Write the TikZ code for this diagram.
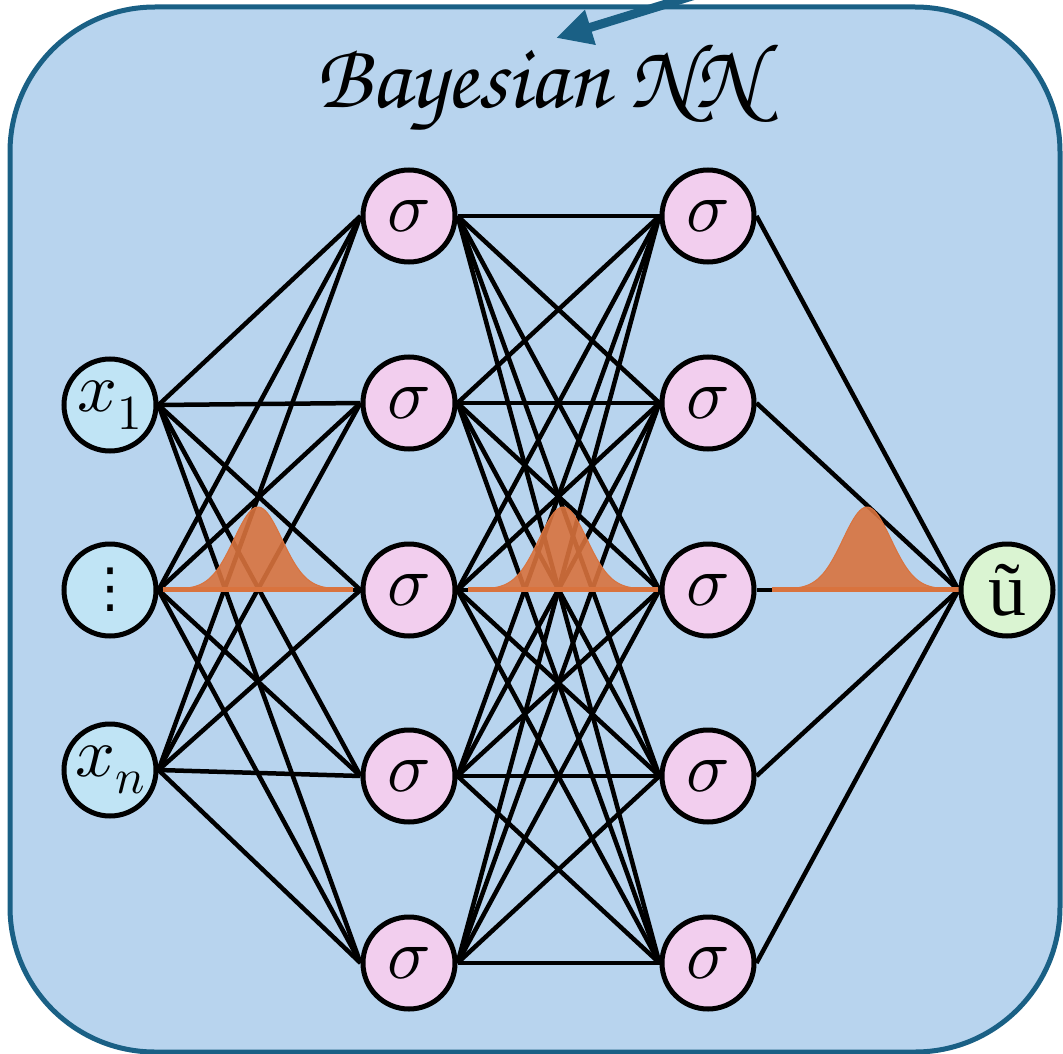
\documentclass[tikz,border=0pt]{standalone}
\usepackage{fontspec}
\usepackage{unicode-math}
\setmathfont{Latin Modern Math}
\newfontfamily\titlefont{texgyrechorus-mediumitalic.otf}
\newfontfamily\labelfont{Liberation Serif}
\newfontfamily\dotsfont{DejaVu Sans}
\usetikzlibrary{arrows.meta,backgrounds}

\definecolor{panelfill}{RGB}{184,212,238}
\definecolor{paneldraw}{RGB}{26,96,133}
\definecolor{inputfill}{RGB}{192,228,245}
\definecolor{hiddenfill}{RGB}{242,206,238}
\definecolor{outputfill}{RGB}{218,244,210}
\definecolor{gaussfill}{RGB}{217,115,62}

\tikzset{
  neuron/.style={circle, draw=black, line width=5pt, minimum size=92pt, inner sep=0pt},
  inputneuron/.style={neuron, fill=inputfill, font=\fontsize{70}{70}\selectfont},
  hiddenneuron/.style={neuron, fill=hiddenfill, font=\fontsize{72}{72}\selectfont},
  outputneuron/.style={neuron, fill=outputfill, font=\labelfont\fontsize{76}{76}\selectfont},
  edge/.style={draw=black, line width=4.5pt},
  gauss/.style={fill=gaussfill, fill opacity=0.9, draw=gaussfill, line width=1pt},
  gaussbase/.style={draw=gaussfill, line width=5pt},
}

\begin{document}
\begin{tikzpicture}[x=1pt, y=-1pt]
\useasboundingbox (0,0) rectangle (1063,1054);

% layers of neurons
\node[inputneuron] (in1) at (110,405) {$x_1$};
\node[inputneuron, font=\dotsfont\fontsize{54}{54}\selectfont] (in2) at (110,590) {⋮};
\node[inputneuron] (in3) at (110,770) {$x_n$};

\foreach \j/\y in {1/216,2/403,3/590,4/776,5/963} {
  \node[hiddenneuron] (ha\j) at (409,\y) {$\sigma$};
  \node[hiddenneuron] (hb\j) at (708,\y) {$\sigma$};
}

\node[outputneuron] (out) at (1007,590) {ũ};

\begin{scope}[on background layer]
  % panel
  \draw[fill=panelfill, draw=paneldraw, line width=5pt, rounded corners=145pt]
    (10,7) rectangle (1060,1052);

  % connections
  \foreach \i in {1,2,3}
    \foreach \j in {1,...,5}
      \draw[edge] (in\i.east) -- (ha\j.west);
  \foreach \i in {1,...,5}
    \foreach \j in {1,...,5}
      \draw[edge] (ha\i.east) -- (hb\j.west);
  \foreach \i in {1,...,5}
    \draw[edge] (hb\i.east) -- (out.west);

  % weight distributions
  \foreach \c in {258,563,867} {
    \fill[gauss] plot[domain=-95:95, samples=90, smooth]
      ({\c+\x}, {589-82*exp(-(\x/24)*(\x/24)/2)}) -- cycle;
    \draw[gaussbase] (\c-95,589) -- (\c+95,589);
  }
\end{scope}

% title
\node[anchor=base, font=\titlefont\fontsize{92}{92}\selectfont] (title) at (537,108) {Bayesian NN};

% incoming arrow
\coordinate (arrowtail) at (705,-8);
\coordinate (arrowtip) at (556,38);
\draw[draw=paneldraw, line width=9pt, -{Triangle[length=36pt, width=34pt]}] (arrowtail) -- (arrowtip);
\end{tikzpicture}
\end{document}
